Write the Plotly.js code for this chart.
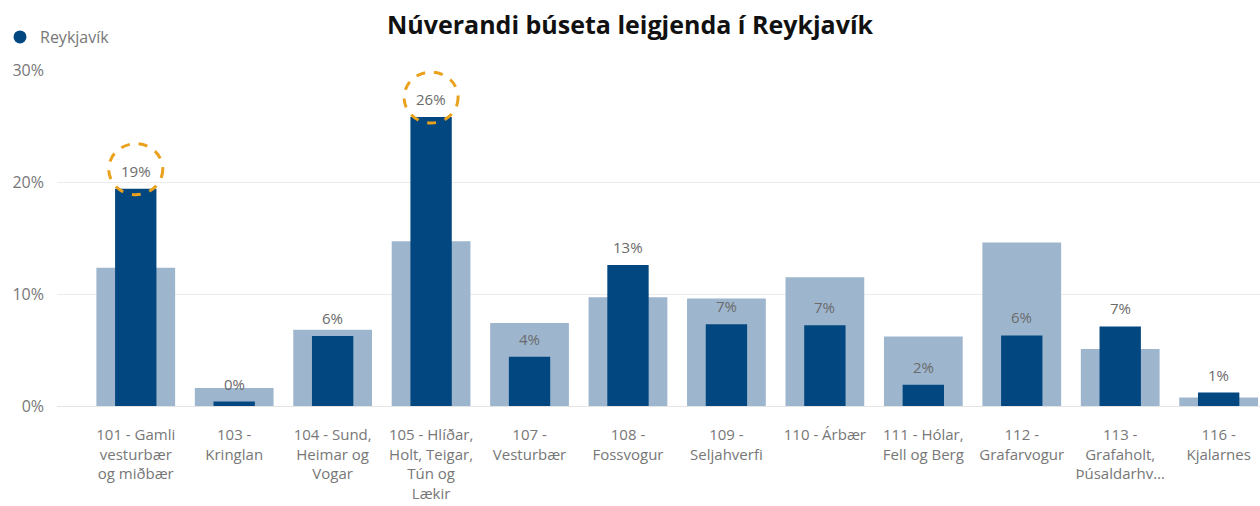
<!DOCTYPE html>
<html>
<head>
<meta charset="utf-8">
<script src="https://cdn.plot.ly/plotly-3.0.1.min.js"></script>
<style>html,body{margin:0;padding:0;background:#fff;}#chart{width:1260px;height:506px;}</style>
</head>
<body>
<div id="chart"></div>
<script>
const categories = [
  "101 - Gamli<br>vesturbær<br>og miðbær",
  "103 -<br>Kringlan",
  "104 - Sund,<br>Heimar og<br>Vogar",
  "105 - Hlíðar,<br>Holt, Teigar,<br>Tún og<br>Lækir",
  "107 -<br>Vesturbær",
  "108 -<br>Fossvogur",
  "109 -<br>Seljahverfi",
  "110 - Árbær",
  "111 - Hólar,<br>Fell og Berg",
  "112 -<br>Grafarvogur",
  "113 -<br>Grafaholt,<br>Þúsaldarhv…",
  "116 -<br>Kjalarnes"
];
// Reykjavík renters (dark bars), %
const reykjavik = [19.4, 0.4, 6.25, 25.8, 4.4, 12.6, 7.3, 7.2, 1.9, 6.3, 7.1, 1.2];
// comparison (light background bars), %
const comparison = [12.35, 1.6, 6.8, 14.7, 7.4, 9.7, 9.6, 11.5, 6.2, 14.6, 5.1, 0.75];
const highlighted = [0, 3];
const yTicks = [0, 10, 20, 30];
const titleText = "Núverandi búseta leigjenda í Reykjavík";

const idx = categories.map((_, i) => i);
const DARK = '#02477F';
const LIGHT = '#9DB6CE';
const FONT = 'Open Sans, sans-serif';

const traces = [
  {type:'bar', x: idx, y: comparison, width: 0.8, marker:{color: LIGHT}, showlegend:false, hoverinfo:'skip', name:'Samanburður'},
  {type:'bar', x: idx, y: reykjavik, width: 0.42, marker:{color: DARK}, showlegend:false, name:'Reykjavík'},
  {type:'scatter', mode:'markers', x:[null], y:[null], name:'Reykjavík', marker:{color: DARK, size: 13, symbol:'circle'}}
];

const annotations = reykjavik.map((v, i) => ({
  x: i, y: v, xref:'x', yref:'y', text: Math.round(v) + '%', showarrow:false,
  yanchor:'bottom', yshift: 6, font:{family: FONT, size:15, color:'#6b6b6b'}
}));

const shapes = highlighted.map(i => ({
  type:'circle', xref:'x', yref:'y', xsizemode:'pixel', ysizemode:'pixel',
  xanchor: i, yanchor: reykjavik[i], x0:-27, x1:27, y0:-6, y1:45,
  line:{color:'#EAA21C', width:3, dash:'dash'}
}));

const layout = {
  width:1260, height:506,
  margin:{l:57, r:0, t:70, b:100},
  paper_bgcolor:'#fff', plot_bgcolor:'#fff',
  barmode:'overlay',
  title:{text: titleText, x:0.5, xanchor:'center', y: 1-25/506, yanchor:'middle', yref:'container',
    font:{family: FONT, size:25, color:'#111', weight:'bold'}},
  showlegend:true,
  legend:{xref:'container', yref:'container', x:0, y:1-20/506, xanchor:'left', yanchor:'top',
    orientation:'h', font:{family: FONT, size:16, color:'#777'}, itemwidth:30},
  xaxis:{range:[-0.8, 11.42], tickvals: idx, ticktext: categories, showgrid:false, zeroline:false,
    showline:false, ticks:'', ticklabelstandoff: 18,
    tickfont:{family: FONT, size:15, color:'#777'}, fixedrange:true},
  yaxis:{range:[0, 30], tickvals: yTicks, ticktext: yTicks.map(t => t + '%'), showgrid:true,
    gridcolor:'#EBEBEB', gridwidth:1, zeroline:true, zerolinecolor:'#E4E4E4', zerolinewidth:1,
    ticks:'', ticklabelstandoff: 12,
    tickfont:{family: FONT, size:16, color:'#777'}, fixedrange:true},
  annotations: annotations,
  shapes: shapes
};

Plotly.newPlot('chart', traces, layout, {displayModeBar:false, staticPlot:true});
</script>
</body>
</html>
